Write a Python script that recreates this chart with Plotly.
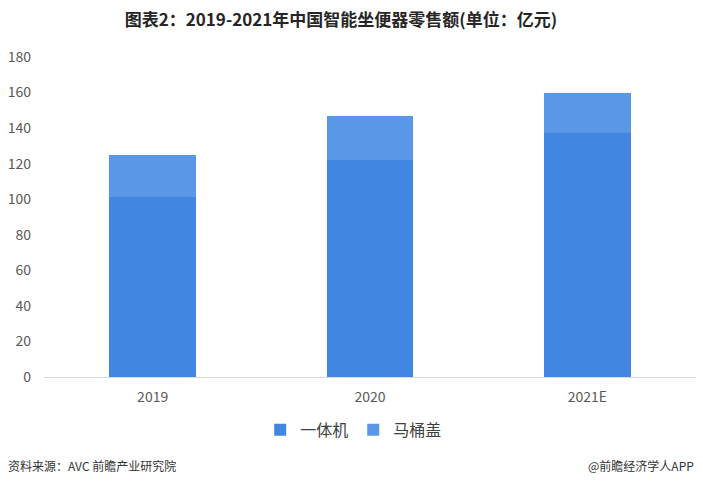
import plotly.graph_objects as go

categories = ["2019", "2020", "2021E"]
yitiji = [101, 122, 137]
matonggai = [24, 25, 23]
tick_vals = [0, 20, 40, 60, 80, 100, 120, 140, 160, 180]

font_family = "Noto Sans CJK SC, Noto Sans, sans-serif"

fig = go.Figure()
fig.add_trace(go.Bar(x=categories, y=yitiji, name="一体机",
                     marker=dict(color="#4187e1", line=dict(width=0))))
fig.add_trace(go.Bar(x=categories, y=matonggai, name="马桶盖",
                     marker=dict(color="#5a98e7", line=dict(width=0))))

fig.update_layout(
    barmode="stack",
    bargap=0.6,
    width=703, height=487,
    margin=dict(l=44, r=7, t=57, b=110),
    paper_bgcolor="white", plot_bgcolor="white",
    font=dict(family=font_family, size=14, color="#595959"),
    title=dict(text="<b>图表2：2019-2021年中国智能坐便器零售额(单位：亿元)</b>",
               x=0.485, xanchor="center", y=0.958, yanchor="middle",
               font=dict(size=17, color="#262626", family=font_family)),
    xaxis=dict(showgrid=False, showline=True, linecolor="#d9d9d9", linewidth=1,
               ticks="", ticklabelstandoff=7, tickfont=dict(size=14, color="#595959")),
    yaxis=dict(range=[0, 180], tickvals=tick_vals, showgrid=False, zeroline=False,
               showline=False, ticks="", ticklabelstandoff=12,
               tickfont=dict(size=14, color="#595959")),
    legend=dict(orientation="h", x=0.475, xanchor="center", y=-0.165, yanchor="middle",
                font=dict(size=16, color="#404040"), itemwidth=30,
                traceorder="normal"),
)

fig.add_annotation(text="资料来源：AVC 前瞻产业研究院", xref="paper", yref="paper",
                   x=-0.058, xanchor="left", y=-0.278, yanchor="middle", showarrow=False,
                   font=dict(size=12, color="#333333", family=font_family))
fig.add_annotation(text="@前瞻经济学人APP", xref="paper", yref="paper",
                   x=1.0, xanchor="right", y=-0.278, yanchor="middle", showarrow=False,
                   font=dict(size=12, color="#333333", family=font_family))

fig.write_html("out.html")
